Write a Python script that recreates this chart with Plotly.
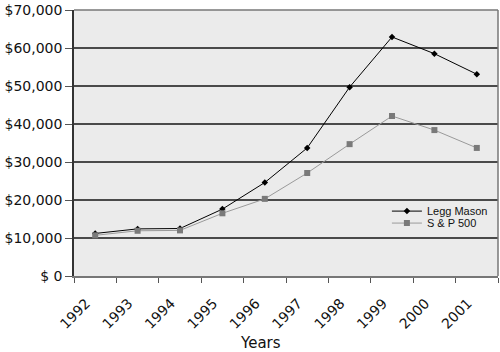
import plotly.graph_objects as go

years = ["1992", "1993", "1994", "1995", "1996", "1997", "1998", "1999", "2000", "2001"]
legg_mason = [11200, 12400, 12500, 17600, 24600, 33700, 49700, 62900, 58500, 53100]
sp500 = [10700, 11900, 12000, 16500, 20300, 27100, 34700, 42100, 38400, 33700]
y_ticks = [0, 10000, 20000, 30000, 40000, 50000, 60000, 70000]
y_labels = ["$ 0", "$10,000", "$20,000", "$30,000", "$40,000", "$50,000", "$60,000", "$70,000"]

fig = go.Figure()
fig.add_trace(go.Scatter(
    x=years, y=legg_mason, name="Legg Mason", mode="lines+markers",
    line=dict(color="#000000", width=1),
    marker=dict(symbol="diamond", size=5, color="#000000"),
    legend="legend",
))
fig.add_trace(go.Scatter(
    x=years, y=sp500, name="S & P 500", mode="lines+markers",
    line=dict(color="#9a9a9a", width=1),
    marker=dict(symbol="square", size=6, color="#7a7a7a"),
    legend="legend2",
))

tick_font = dict(family="DejaVu Sans", size=14, color="#111111")
leg_font = dict(family="Liberation Sans", size=11, color="#111111")

fig.update_layout(
    width=500, height=352,
    margin=dict(l=74, r=2, t=10, b=76),
    paper_bgcolor="#ffffff",
    plot_bgcolor="#ebebeb",
    showlegend=True,
    legend=dict(
        x=0.738, y=0.244, xanchor="left", yanchor="middle",
        bgcolor="rgba(0,0,0,0)", font=leg_font, itemwidth=30,
    ),
    legend2=dict(
        x=0.738, y=0.199, xanchor="left", yanchor="middle",
        bgcolor="rgba(0,0,0,0)", font=leg_font, itemwidth=30,
    ),
    xaxis=dict(
        type="category", tickangle=-45, tickfont=tick_font,
        showgrid=False, showline=True, linecolor="#777777", linewidth=1.5,
        ticks="outside", tickson="boundaries", ticklen=5, tickcolor="#555555",
        ticklabelstandoff=12, ticklabelshift=-9,
        range=[-0.5, 9.5],
    ),
    yaxis=dict(
        range=[0, 70000], tickvals=y_ticks, ticktext=y_labels, tickfont=tick_font,
        showgrid=True, gridcolor="#4a4a4a", gridwidth=1.5,
        showline=True, linecolor="#333333", linewidth=1.5,
        ticks="outside", ticklen=7, tickcolor="#555555",
        zeroline=False,
    ),
    shapes=[
        dict(type="line", xref="paper", yref="paper", x0=0, x1=1, y0=1, y1=1,
             line=dict(color="#777777", width=1.5)),
        dict(type="line", xref="paper", yref="paper", x0=1, x1=1, y0=0, y1=1,
             line=dict(color="#777777", width=1.5)),
    ],
    annotations=[
        dict(text="Years", xref="paper", yref="paper", x=0.439, y=-0.252,
             xanchor="center", yanchor="middle", showarrow=False,
             font=dict(family="DejaVu Sans", size=15, color="#111111")),
    ],
)

fig.write_html("out.html")
